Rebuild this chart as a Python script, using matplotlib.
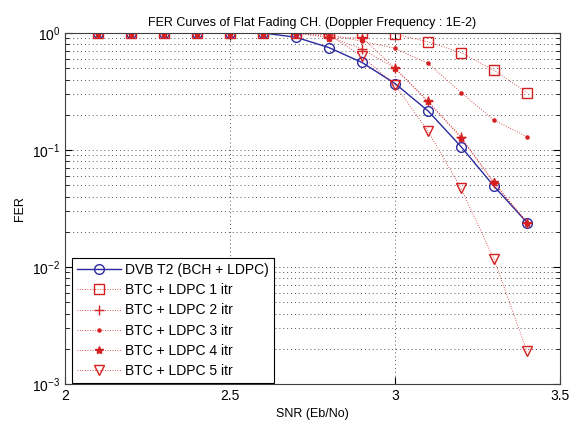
import numpy as np
import matplotlib
matplotlib.use('Agg')
import matplotlib.pyplot as plt
from matplotlib.ticker import LogLocator

plt.rcParams['font.family'] = ['Liberation Sans', 'DejaVu Sans']
plt.rcParams['mathtext.default'] = 'regular'

snr = [2.1, 2.2, 2.3, 2.4, 2.5, 2.6, 2.7, 2.8, 2.9, 3.0, 3.1, 3.2, 3.3, 3.4]
dvb = [1, 1, 1, 1, 1, 1, 0.92, 0.75, 0.56, 0.37, 0.216, 0.107, 0.049, 0.024]
btc1 = [1, 1, 1, 1, 1, 1, 1, 1, 1, 0.98, 0.84, 0.68, 0.48, 0.31]
btc2 = [1, 1, 1, 1, 1, 1, 1, 0.93, 0.73, 0.50, 0.26, 0.13, 0.052, 0.024]
btc3 = [1, 1, 1, 1, 1, 1, 1, 0.97, 0.85, 0.74, 0.55, 0.31, 0.18, 0.13]
btc4 = [1, 1, 1, 1, 1, 1, 1, 0.91, 0.91, 0.50, 0.26, 0.127, 0.053, 0.024]
btc5 = [1, 1, 1, 1, 1, 1, 1, 0.97, 0.63, 0.36, 0.145, 0.047, 0.0117, 0.0019]

fig = plt.figure(figsize=(5.81, 4.33), dpi=100)
ax = fig.add_axes([65/581, 49/433, 495/581, 351/433])

red = '#d42020'
dot = (0, (1, 2))
ax.semilogy(snr, dvb, '-o', color='#2a2aa0', mfc='none', ms=7, lw=1,
            label='DVB T2 (BCH + LDPC)')
ax.semilogy(snr, btc1, marker='s', ls=dot, color=red, mfc='none', ms=6.5,
            lw=0.6, label='BTC + LDPC 1 itr')
ax.semilogy(snr, btc2, marker='+', ls=dot, color=red, ms=7, lw=0.6,
            label='BTC + LDPC 2 itr')
ax.semilogy(snr, btc3, marker='.', ls=dot, color=red, ms=4.5, lw=0.6,
            label='BTC + LDPC 3 itr')
ax.semilogy(snr, btc4, marker='*', ls=dot, color=red, ms=6, lw=0.6,
            label='BTC + LDPC 4 itr')
ax.semilogy(snr, btc5, marker='v', ls=dot, color=red, mfc='none', ms=7,
            lw=0.6, label='BTC + LDPC 5 itr')

ax.set_xlim(2, 3.5)
ax.set_ylim(1e-3, 1)
ax.set_xticks([2, 2.5, 3, 3.5])
ax.set_xticklabels(['2', '2.5', '3', '3.5'])
ax.yaxis.set_major_locator(LogLocator(base=10, numticks=10))
ax.yaxis.set_minor_locator(LogLocator(base=10, subs=np.arange(2, 10), numticks=20))

ax.grid(True, which='major', axis='both', ls=(0, (1, 3)), color='#555555', lw=0.7)
ax.grid(True, which='minor', axis='y', ls=(0, (1, 3)), color='#555555', lw=0.7)
ax.tick_params(which='both', direction='in', top=True, right=True, labelsize=10)
ax.tick_params(which='major', length=5)
ax.tick_params(which='minor', length=3)
for s in ax.spines.values():
    s.set_color('#404040')

ax.set_xlabel('SNR (Eb/No)', fontsize=9, labelpad=4)
ax.set_ylabel('FER', fontsize=9)
ax.set_title('FER Curves of Flat Fading CH. (Doppler Frequency : 1E-2)',
             fontsize=9, pad=5)

leg = ax.legend(loc='lower left', bbox_to_anchor=(7/495, 1/351),
                fontsize=10, fancybox=False, framealpha=1, edgecolor='k',
                borderaxespad=0, handlelength=3.2, handletextpad=0.3,
                labelspacing=0.45, borderpad=0.35)
leg.get_frame().set_linewidth(0.8)

fig.savefig('out.png', dpi=100)
